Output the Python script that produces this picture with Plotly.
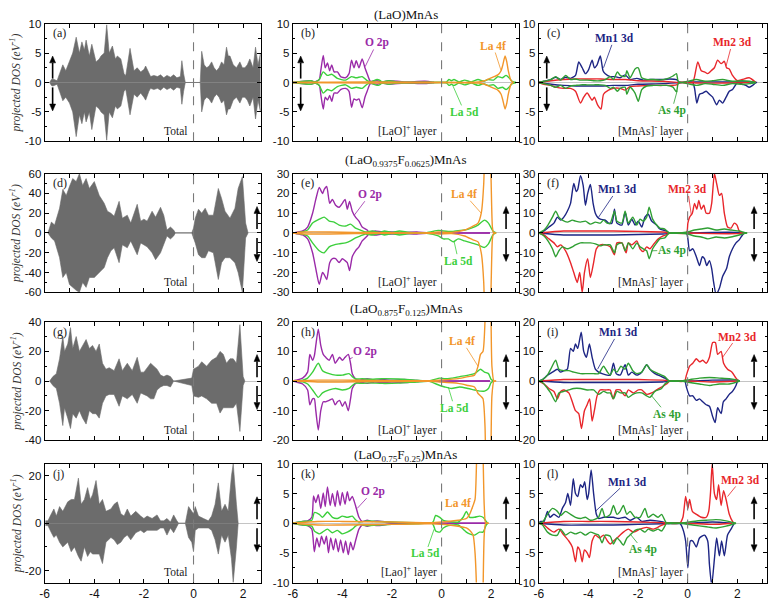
import plotly.graph_objects as go

W, H = 768, 616

# ---------------- data: column 1 (total DOS) ----------------
a_E = [-5.8,-5.73,-5.67,-5.6,-5.5,-5.4,-5.27,-5.15,-5.0,-4.87,-4.73,-4.6,-4.5,-4.4,-4.33,-4.2,-4.1,-3.93,-3.8,-3.73,
       -3.6,-3.5,-3.4,-3.27,-3.15,-3.07,-2.93,-2.8,-2.73,-2.56,-2.4,-2.27,-2.13,-2.0,-1.93,-1.8,-1.73,-1.6,-1.45,-1.33,
       -1.2,-1.07,-0.93,-0.8,-0.67,-0.53,-0.47,-0.4,-0.33,0.27,0.33,0.43,0.53,0.63,0.73,0.83,0.93,1.03,1.13,1.23,
       1.33,1.4,1.47,1.6,1.73,1.87,1.97,2.07,2.17,2.27,2.4,2.5,2.6,2.7]
a_up = [0,0.5,0.6,0.5,0.3,1.5,3.0,2.0,3.5,5.0,7.7,5.0,6.9,5.5,7.2,4.5,6.5,3.5,4.0,4.5,
        5.0,9.8,5.0,6.2,4.0,4.5,4.0,1.5,1.2,5.8,2.0,2.5,1.8,2.2,2.8,1.5,1.0,1.2,1.0,1.3,
        0.8,1.2,0.9,1.3,0.8,1.0,3.7,1.5,0,0,5.3,3.0,2.5,2.8,3.5,2.5,2.0,2.5,3.5,3.0,
        6.0,4.5,4.5,3.0,2.5,3.5,2.5,2.5,3.0,4.0,2.5,6.0,3.0,5.0]
a_dn = [0,-0.5,-0.6,-0.5,-0.3,-1.5,-3.1,-2.5,-3.5,-5.0,-9.2,-5.5,-7.0,-5.0,-6.7,-5.0,-8.0,-4.0,-4.5,-5.0,
        -5.5,-9.8,-5.0,-6.0,-4.0,-4.5,-4.0,-1.5,-1.2,-5.5,-2.0,-2.5,-1.8,-2.5,-3.0,-1.5,-1.0,-1.2,-1.0,-1.3,
        -0.8,-1.2,-0.9,-1.3,-0.8,-1.0,-3.7,-1.5,0,0,-5.0,-3.0,-2.5,-2.8,-3.5,-2.5,-2.0,-2.5,-3.5,-3.0,
        -5.5,-4.5,-4.5,-3.0,-2.5,-3.5,-2.5,-2.5,-3.0,-4.0,-2.5,-6.2,-3.0,-5.0]

d_E = [-5.87,-5.73,-5.6,-5.4,-5.27,-5.13,-5.0,-4.87,-4.73,-4.6,-4.47,-4.33,-4.2,-4.0,-3.8,-3.6,-3.47,-3.33,-3.2,-3.0,
       -2.87,-2.67,-2.53,-2.27,-2.13,-2.0,-1.87,-1.67,-1.53,-1.33,-1.2,-1.07,-0.93,-0.8,-0.73,-0.07,0.0,0.07,0.2,0.33,
       0.47,0.6,0.8,1.0,1.13,1.27,1.47,1.67,1.8,1.97,2.1,2.2]
d_up = [0,11,8,25,44,38,47,55,52,60,48,55,45,52,38,30,22,20,17,32,
        15,18,10,29,12,14,12,22,16,26,18,3,6,3,0,0,5,15,24,20,
        25,18,18,45,35,22,15,25,45,57,10,0]
d_dn = [0,-5,-8,-25,-45,-40,-52,-55,-58,-60,-50,-55,-45,-45,-40,-35,-25,-18,-15,-30,
        -12,-15,-8,-22,-10,-12,-14,-20,-27,-20,-12,-3,-6,-3,0,0,-5,-10,-22,-25,
        -25,-18,-20,-47,-30,-25,-25,-30,-40,-60,-5,0]

g_E = [-5.8,-5.67,-5.53,-5.4,-5.27,-5.2,-5.07,-4.96,-4.87,-4.73,-4.6,-4.47,-4.33,-4.2,-4.07,-3.93,-3.8,-3.67,-3.53,-3.4,
       -3.2,-3.0,-2.87,-2.67,-2.47,-2.27,-2.13,-2.0,-1.87,-1.73,-1.6,-1.47,-1.33,-1.2,-1.07,-0.93,-0.8,-0.07,0.0,0.2,
       0.33,0.53,0.73,0.93,1.07,1.2,1.33,1.47,1.6,1.73,1.87,2.0,2.07]
g_up = [0,3,5,15,30,20,25,36,22,30,20,24,28,22,24,20,25,12,8,9,
        7,15,7,12,7,16,6,6,9,12,10,8,4,3,4,3,0,2,8,10,
        13,10,14,16,20,18,12,15,15,12,38,3,0]
g_dn = [0,-3,-5,-15,-30,-18,-25,-32,-22,-25,-20,-25,-29,-20,-22,-22,-25,-15,-10,-9,
        -9,-17,-10,-12,-9,-15,-8,-9,-10,-12,-12,-6,-4,-3,-3,-4,0,-3,-10,-11,
        -10,-12,-15,-15,-21.6,-18,-18,-18,-18,-15,-34,-3,0]

j_E = [-5.97,-5.87,-5.73,-5.63,-5.53,-5.4,-5.27,-5.07,-4.93,-4.8,-4.64,-4.53,-4.4,-4.27,-4.16,-4.07,-3.93,-3.8,-3.67,-3.53,
       -3.33,-3.2,-3.07,-2.93,-2.8,-2.67,-2.53,-2.33,-2.13,-2.0,-1.87,-1.67,-1.47,-1.33,-1.2,-1.07,-0.93,-0.8,-0.67,-0.6,
       -0.33,-0.2,-0.07,0.0,0.07,0.2,0.4,0.6,0.73,0.87,1.0,1.13,1.27,1.4,1.53,1.6,1.73,1.8]
j_up = [1,1,4,6,3,7,5,9,10,10,19,8,10,15,10,12,18,8,10,5,
        6,8,9,4,3,6,3,5,3,2,3,2,3.5,1,1,2,0.5,3.5,1,0,
        0,7,5,4,7,3,2,1,3,8,17,5,8,5,20,25,8,0]
j_dn = [-1,-1,-4,-6,-5,-8,-10,-8,-12,-10,-14,-16,-10,-14,-12,-13,-13,-13,-17,-8,
        -6,-7,-9,-8,-6,-5,-7,-4,-3,-4,-3,-3,-3,-2,-2,-5,-2,-4,-1,0,
        0,-6,-8,-12,-3,-2,-2,-2,-3,-7,-13,-5,-8,-5,-15,-25,-10,0]

# ---------------- data: column 2 ([LaO]+ layer) ----------------
b_O_E = [-6.0,-5.27,-5.1,-4.93,-4.87,-4.77,-4.69,-4.6,-4.51,-4.43,-4.33,-4.2,-4.07,-3.87,-3.73,-3.63,-3.53,-3.44,-3.33,-3.2,
         -3.09,-3.0,-2.87,-2.6,-2.4,-2.13,-1.5,-0.67,-0.3]
b_O_up = [0,0.3,0.1,0.5,2.0,4.6,2.5,3.3,2.0,3.0,1.8,1.8,1.0,0.8,1.5,3.8,2.5,3.7,2.5,4.0,
          2.5,1.5,0.2,0.3,0.1,0.3,0.1,0.2,0]
b_O_dn = [0,-0.3,-0.1,-0.5,-2.0,-4.5,-2.5,-3.0,-2.2,-3.2,-1.8,-1.8,-1.2,-1.0,-1.5,-4.2,-2.8,-3.0,-2.8,-4.3,
          -2.5,-1.5,-0.2,-0.3,-0.1,-0.3,-0.1,-0.2,0]
b_L5_E = [-6.0,-5.27,-5.1,-4.93,-4.77,-4.6,-4.43,-4.2,-3.87,-3.63,-3.44,-3.2,-3.0,-2.87,-2.6,-2.5,-2.4,-2.13,-1.8,-0.5,
          0.2,0.3,0.4,0.5,0.7,0.93,1.2,1.47,1.7,1.87,2.1,2.27,2.45,2.6,2.72,2.85,3.0]
b_L5_up = [0,0.3,0.1,0.5,1.8,1.2,1.4,0.7,0.4,1.0,0.8,1.0,0.3,0.1,0.5,0.4,0.1,0.3,0.1,0.05,
           0.1,0.5,0.3,0.5,0.1,0.4,0.1,0.5,0.2,0.5,0.4,1.0,0.8,1.2,0.8,0.2,0]
b_L5_dn = [0,-0.3,-0.1,-0.5,-1.8,-1.2,-1.4,-0.7,-0.4,-1.0,-0.8,-1.0,-0.3,-0.1,-0.5,-0.4,-0.1,-0.3,-0.1,-0.05,
           -0.1,-0.5,-0.3,-0.5,-0.1,-0.4,-0.1,-0.5,-0.2,-0.5,-0.4,-1.0,-0.8,-1.2,-0.8,-0.2,0]
b_L4_E = [-6.0,-3.0,0.2,1.5,1.73,2.0,2.27,2.4,2.47,2.56,2.63,2.69,2.8,2.9]
b_L4_up = [0,0.1,0,0.1,0.3,0.8,1.3,2.0,3.0,4.5,3.5,2.0,0.3,0]
b_L4_dn = [0,-0.1,0,-0.1,-0.3,-0.8,-1.3,-2.0,-3.0,-4.5,-3.5,-2.0,-0.3,0]

e_O_E = [-6.0,-5.87,-5.6,-5.4,-5.2,-5.07,-4.93,-4.8,-4.73,-4.63,-4.51,-4.4,-4.27,-4.13,-4.0,-3.89,-3.8,-3.71,-3.6,-3.47,
         -3.33,-3.2,-3.0,-2.93,-2.67,-2.4,-2.0,-1.5,-1.0,-0.5,1.95]
e_O_up = [0,0.3,1,3,10,17,23,20,22,23.5,15,17,14,13,15,17,12,16,11,8,
          6,3,1.5,0.5,1,0.5,0.5,0.3,0.5,0,0]
e_O_dn = [0,-0.3,-1,-3,-10,-18,-26,-20,-21,-23.5,-15,-13,-13,-15,-13,-14,-15,-19,-12,-9,
          -7,-4,-1.5,-0.5,-1,-0.5,-0.5,-0.3,-0.5,0,0]
e_L5_E = [-6.0,-5.73,-5.4,-5.2,-4.93,-4.73,-4.53,-4.33,-4.13,-3.87,-3.67,-3.47,-3.27,-3.07,-2.8,-2.5,-2.3,-2.0,-1.7,-1.3,
          -0.6,-0.13,0.07,0.27,0.47,0.67,0.93,1.2,1.47,1.73,1.89,2.07,2.2]
e_L5_up = [0,0.3,1.5,5,7,8,6,5.5,4,3.5,4.5,2.5,1.5,0.5,1,0.3,1,0.3,1,0.3,
           0.2,1.3,1,0.8,0.8,1.2,1.5,2.5,4,6.5,5,1,0]
e_L5_dn = [0,-0.3,-1.5,-5,-9,-10,-7,-6,-5.5,-5,-4,-2.5,-1.5,-0.5,-1,-0.3,-1,-0.3,-1,-0.3,
           -0.2,-1.5,-3,-3,-4.5,-3,-4,-5,-6,-7.3,-5.5,-1,0]
e_L4_E = [-6.0,-5.5,-4.5,-3.5,-2.5,-0.5,-0.13,0.4,0.93,1.27,1.47,1.6,1.7,1.75,1.85,1.95,2.0,2.05,2.1,2.2]
e_L4_up = [0,0.5,0.5,0.3,0.2,0.1,0.5,0.3,1.5,3.5,5,10,25,50,80,50,25,3,0,0]
e_L4_dn = [0,-0.5,-0.5,-0.3,-0.2,-0.1,-0.5,-0.3,-1.5,-3.5,-4.5,-10,-25,-50,-80,-50,-25,-3,0,0]

h_O_E = [-6.0,-5.87,-5.6,-5.4,-5.31,-5.2,-5.13,-5.07,-4.97,-4.87,-4.77,-4.67,-4.53,-4.4,-4.29,-4.2,-4.11,-4.0,-3.89,-3.76,
         -3.67,-3.6,-3.47,-3.33,-3.0,-2.7,-2.4,-2.0,-1.5,-1.0,-0.5,1.95]
h_O_up = [0,0.3,1,3,9,7,8.5,12,17.5,12,9,8,7,9,6,7,8,7,8,9,
          6,2.5,0.8,0.3,0.8,0.3,0.5,0.3,0.5,0.2,0,0]
h_O_dn = [0,-0.3,-1,-3,-8,-6,-6,-10,-16.5,-10,-7,-7,-6.5,-6,-8,-7,-6.5,-8.5,-7,-10,
          -6,-2.5,-0.8,-0.3,-0.8,-0.3,-0.5,-0.3,-0.5,-0.2,0,0]
h_L5_E = [-6.0,-5.6,-5.4,-5.2,-4.97,-4.8,-4.53,-4.27,-4.0,-3.73,-3.6,-3.47,-3.2,-2.93,-2.4,-1.73,-1.0,-0.5,-0.07,0.13,
          0.4,0.73,1.07,1.33,1.57,1.73,1.89,2.0,2.11]
h_L5_up = [0,0.3,1,3,6,3.5,2.5,2,2,2.5,1.5,0.7,0.8,0.6,0.8,0.7,0.3,0.1,1,0.8,
           1,1.5,2,2.5,4,3,2.5,0.5,0]
h_L5_dn = [0,-0.3,-1,-3,-5.5,-4,-3,-2.5,-3,-2.5,-1.5,-0.7,-0.8,-0.6,-0.8,-0.7,-0.3,-0.1,-1.5,-2,
           -2.5,-2,-2.5,-3,-3.4,-3.4,-2.5,-0.5,0]
h_L4_E = [-6.0,-5.0,-4.0,-3.0,-0.5,-0.1,0.67,1.07,1.33,1.47,1.57,1.67,1.75,1.8,1.87,1.97,2.03,2.11,2.2]
h_L4_up = [0,0.3,0.3,0.2,0.1,0.3,0.8,1.5,2,5,9,10,20,40,60,40,5,0,0]
h_L4_dn = [0,-0.3,-0.3,-0.2,-0.1,-0.3,-0.8,-1.5,-2,-4.2,-5,-6,-15,-40,-60,-40,-5,0,0]

k_O_E = [-6.0,-5.6,-5.4,-5.23,-5.16,-5.07,-4.97,-4.87,-4.77,-4.69,-4.6,-4.49,-4.4,-4.29,-4.2,-4.09,-4.0,-3.89,-3.8,-3.71,
         -3.6,-3.47,-3.33,-3.2,-3.0,-2.8,-2.6,-2.0,-1.0,1.8]
k_O_up = [0,0.3,0.4,1,4.6,3.5,4.8,2.5,5.1,2.8,6.1,3,5,2.8,5.5,3,5.2,3.2,5.3,3.8,
          4.5,3,1,0.3,0.5,0.3,0.4,0.1,0,0]
k_Odn_E = [-6.0,-5.6,-5.4,-5.23,-5.13,-5.03,-4.93,-4.84,-4.73,-4.64,-4.56,-4.47,-4.36,-4.27,-4.16,-4.07,-3.96,-3.87,-3.76,-3.67,
           -3.57,-3.47,-3.33,-3.2,-3.0,-2.8,-2.6,-2.0,-1.0,1.8]
k_O_dn = [0,-0.3,-0.4,-1,-4.8,-2.5,-4,-2.2,-3.5,-2.2,-5,-2.5,-4.5,-2.6,-4.8,-2.8,-5,-3,-5.3,-3.2,
          -4.5,-3,-1,-0.3,-0.5,-0.3,-0.4,-0.1,0,0]
k_L5_E = [-6.0,-5.6,-5.23,-5.13,-4.93,-4.8,-4.6,-4.4,-4.2,-4.0,-3.8,-3.6,-3.47,-3.33,-3.0,-2.6,-2.0,-1.0,-0.4,-0.33,
          -0.24,-0.07,0.07,0.27,0.67,0.87,1.0,1.13,1.33,1.53,1.67,1.8,1.87]
k_L5_up = [0,0.3,0.5,1.8,1.5,1,1.9,1,0.8,1.2,1,1.2,0.6,0.2,0.4,0.3,0.2,0.1,0,0.3,
           1.3,1,0.5,0.3,0.2,1,2,1,1,1.2,1,0.3,0]
k_L5_dn = [0,-0.3,-0.5,-1.3,-1.8,-1.5,-1,-1.6,-1.2,-1.8,-1.5,-1,-0.5,-0.2,-0.4,-0.3,-0.2,-0.1,0,-0.3,
           -1.3,-1.5,-0.8,-0.4,-0.3,-1,-1.5,-1.8,-2,-1.5,-1.5,-0.3,0]
k_L4_E = [-6.0,-5.0,-4.0,-2.0,-0.4,0.67,1.0,1.13,1.27,1.35,1.42,1.5,1.6,1.67,1.72,1.78,1.9]
k_L4_up = [0,0.3,0.3,0.2,0.1,0.5,0.8,1.5,3,4,12,25,20,12,3,0,0]
k_L4_dn = [0,-0.3,-0.3,-0.2,-0.1,-0.5,-0.8,-1.2,-2,-5,-12,-25,-25,-12,-2,0,0]

# ---------------- data: column 3 ([MnAs]- layer) ----------------
c_M1_E = [-6.0,-5.79,-5.52,-5.32,-5.12,-4.92,-4.72,-4.52,-4.39,-4.25,-4.12,-3.99,-3.85,-3.76,-3.65,-3.52,-3.41,-3.32,-3.12,-2.92,
          -2.72,-2.52,-2.32,-2.05,-1.79,-1.52,-1.25,-0.99,-0.72,-0.45,-0.32,0.3,1.0,1.5,2.0,2.5,2.8]
c_M1_up = [0,0.2,0.5,0.9,0.5,0.9,0.7,1.2,3.5,2.5,1.5,2.2,3.8,2.5,3,4.5,2,1.5,1,1,
           0.8,1.3,0.5,0.7,0.4,0.5,0.5,0.5,0.6,0.5,0,0.1,0.1,0.1,0.1,0.1,0]
c_M1dn_E = [-6.0,-5.5,-5.0,-4.5,-4.0,-3.5,-3.0,-2.5,-2.0,-1.0,-0.32,0.2,0.28,0.37,0.48,0.61,0.75,0.88,1.01,1.17,
            1.28,1.41,1.55,1.68,1.81,2.01,2.2,2.35,2.48,2.62,2.75]
c_M1_dn = [0,-0.3,-0.5,-0.6,-0.6,-0.6,-0.5,-0.5,-0.3,-0.2,0,0,-1,-3.5,-2,-1.8,-1.5,-2,-2.5,-3.8,
           -3,-3.5,-2.5,-1.5,-1.2,0,-0.3,-0.5,-0.8,-0.5,0]
c_M2_E = [-6.0,-5.5,-5.0,-4.5,-4.0,-3.5,-3.0,-2.5,-2.0,-1.0,-0.32,0.2,0.28,0.41,0.55,0.68,0.81,0.95,1.08,1.21,
          1.35,1.48,1.57,1.68,1.81,2.01,2.2,2.48,2.75]
c_M2_up = [0,0.3,0.5,0.6,0.6,0.6,0.5,0.5,0.3,0.2,0,0,1,3.5,2,1.8,1.5,2,2.5,3.8,
           3.2,3.6,2.5,2.3,1.2,0.3,0.5,0.8,0]
c_M2dn_E = [-6.0,-5.79,-5.52,-5.32,-5.0,-4.72,-4.52,-4.32,-4.19,-4.05,-3.85,-3.76,-3.63,-3.49,-3.39,-3.19,-2.99,-2.72,-2.52,-2.32,
            -2.0,-1.5,-1.0,-0.45,-0.32,0.5,1.5,2.5]
c_M2_dn = [0,-0.3,-0.5,-0.8,-1,-1,-1.5,-3.5,-2.5,-1.8,-3,-2.5,-3.8,-4.5,-2,-1.3,-1,-1,-1.3,-0.7,
           -0.6,-0.5,-0.5,-0.4,0,-0.1,-0.1,0]
c_As_E = [-6.0,-5.79,-5.52,-5.32,-5.12,-4.92,-4.72,-4.52,-4.32,-4.05,-3.79,-3.52,-3.32,-3.12,-2.99,-2.83,-2.72,-2.52,-2.45,-2.32,
          -2.12,-1.99,-1.85,-1.65,-1.39,-1.12,-0.85,-0.59,-0.45,-0.39,-0.32,0.0,0.35,0.7,1.0,1.41,1.8,2.2,2.5,2.75]
c_As_up = [0,0.2,0.5,1.0,0.4,1.2,0.5,0.6,0.4,0.4,0.3,0.3,0.5,1.0,0.5,1.8,1.2,1.0,2.0,0.8,
           2.3,2.5,0.8,0.5,0.5,0.4,0.6,1.1,1.5,0.3,0,0.2,0.5,0.2,0.3,0.5,0.2,0.3,0.2,0]
c_As_dn = [0,-0.2,-0.5,-0.8,-0.5,-1.0,-0.6,-0.5,-0.4,-0.4,-0.4,-0.4,-0.5,-1.0,-0.8,-1.5,-1.0,-0.8,-2.0,-0.8,
           -1.8,-3.2,-1.2,-0.6,-0.5,-0.5,-0.5,-0.8,-1.6,-0.3,0,-0.2,-0.5,-0.2,-0.3,-0.5,-0.2,-0.3,-0.2,0]

f_M1_E = [-6.0,-5.92,-5.79,-5.59,-5.39,-5.25,-5.12,-4.99,-4.85,-4.72,-4.59,-4.49,-4.43,-4.32,-4.21,-4.12,-4.03,-3.92,-3.81,-3.72,
          -3.63,-3.52,-3.32,-3.19,-3.05,-2.95,-2.85,-2.65,-2.52,-2.39,-2.25,-2.12,-1.99,-1.85,-1.72,-1.59,-1.45,-1.25,-1.12,-0.99,
          -0.85,-0.75,0.0,1.0,2.0,2.3]
f_M1_up = [0,0.3,1,3,5,8,6.5,8,11,15,25,21,22,29,24,14,20,24.5,15,10,
           8,7,6.5,5,5,12,5,4,10.5,4,7,4,6,3,8,9.5,6,4,2,1.5,
           1,0,0,0.3,0.3,0]
f_M1dn_E = [-6.0,-5.0,-4.0,-3.0,-2.0,-1.0,-0.05,0.01,0.08,0.21,0.35,0.48,0.59,0.68,0.77,0.88,0.97,1.05,1.15,1.28,
            1.41,1.57,1.68,1.81,1.95,2.08,2.21,2.28]
f_M1_dn = [0,-1,-1,-1,-0.8,-0.5,0,-3,-9,-8,-12,-16.5,-12,-13,-16.5,-14,-18,-25,-31,-28,
           -22,-18,-12,-8,-5,-3.5,-1,0]
f_M2_E = [-6.0,-5.0,-4.0,-3.0,-2.0,-1.0,-0.05,0.01,0.08,0.19,0.28,0.37,0.45,0.55,0.65,0.75,0.88,0.97,1.08,1.17,
          1.28,1.37,1.48,1.61,1.75,1.88,1.99,2.08,2.21]
f_M2_up = [0,1,1,1,0.8,0.5,0,5,8,10,15,12,16.5,12,14,10,10,15,30,25,
           19,20,10,3,2.5,5,4,1,0]
f_M2dn_E = [-6.0,-5.79,-5.59,-5.39,-5.25,-5.12,-4.92,-4.72,-4.59,-4.45,-4.35,-4.25,-4.16,-4.03,-3.92,-3.79,-3.68,-3.52,-3.32,-3.12,
            -2.95,-2.85,-2.65,-2.48,-2.39,-2.25,-2.05,-1.92,-1.79,-1.65,-1.52,-1.39,-1.19,-0.99,-0.79,-0.72,0.0,1.0,2.0,2.3]
f_M2_dn = [0,-1,-3,-5,-7,-6,-9,-15,-20,-25,-20,-30,-20,-13,-22.5,-15,-8,-6,-6,-7,
           -11,-5,-5,-10,-5,-6,-4,-8,-9.4,-7,-8,-6,-3,-1.5,-0.5,0,0,-0.3,-0.3,0]
f_As_E = [-6.0,-5.79,-5.63,-5.45,-5.32,-5.19,-5.05,-4.85,-4.65,-4.52,-4.32,-4.12,-3.92,-3.72,-3.52,-3.39,-3.25,-3.12,-2.95,-2.85,
          -2.65,-2.52,-2.39,-2.21,-2.05,-1.92,-1.79,-1.65,-1.55,-1.41,-1.25,-1.12,-0.92,-0.79,-0.72,-0.3,0.0,0.28,0.55,0.81,
          1.15,1.48,1.75,2.08,2.28,2.4]
f_As_up = [0,1.5,4,8,11,8,6.5,5.5,6.5,6,5.5,6,4.5,5.5,5,6.5,5,5,11,6,
           5,11,5,8,4,7,6,8,13,7,4,2.5,2,0.5,0,0,0.5,1.5,2,2.5,
           1.5,2,1.5,1,0.3,0]
f_As_dn = [0,-1.5,-4,-8,-12,-9,-7,-8,-7,-6,-5,-5,-5,-5.5,-6.5,-6,-6,-6,-10,-6,
           -5,-9,-5,-8,-5,-7,-8,-9,-13,-8,-5,-3,-2.5,-0.5,0,0,-0.5,-1.5,-2,-3,
           -2,-2.5,-2,-1,-0.3,0]

i_M1_E = [-6.0,-5.85,-5.65,-5.45,-5.25,-5.12,-4.99,-4.85,-4.72,-4.61,-4.52,-4.43,-4.29,-4.19,-4.08,-3.96,-3.85,-3.72,-3.59,-3.45,
          -3.25,-3.12,-2.99,-2.88,-2.72,-2.52,-2.39,-2.25,-2.05,-1.85,-1.65,-1.52,-1.32,-1.05,-0.92,-0.79,-0.72,0.0,1.0,2.0,2.1]
i_M1_up = [0,0.5,2,3,4,3,3.5,4,11,10,12.5,11,16.5,10,8,12.5,8,4,3,2.5,
           2,2,6,2.5,2,5.5,2,3,2,3,5.5,4,2.5,1.5,1,0.2,0,0,0.3,0.3,0]
i_M1dn_E = [-6.0,-5.0,-4.0,-3.0,-2.0,-1.0,-0.12,-0.05,0.08,0.21,0.35,0.48,0.61,0.75,0.88,1.01,1.11,1.21,1.35,1.44,
            1.55,1.68,1.81,1.95,2.01]
i_M1_dn = [0,-0.5,-0.5,-0.5,-0.5,-0.3,0,-2,-5,-5,-6.5,-6,-7,-8,-8.5,-12,-14,-9,-11,-7,
           -6,-4.5,-3.5,-1.5,0]
i_M2_E = [-6.0,-5.0,-4.0,-3.0,-2.0,-1.0,-0.12,-0.05,0.08,0.21,0.35,0.48,0.61,0.75,0.88,1.01,1.12,1.21,1.35,1.45,
          1.61,1.79,1.95,2.05]
i_M2_up = [0,0.5,0.5,0.5,0.5,0.3,0,2,5,6,7.5,6.5,7,6,8,13,13,9,10,6,
           4,3,1,0]
i_M2dn_E = [-6.0,-5.79,-5.59,-5.39,-5.25,-5.12,-4.99,-4.79,-4.65,-4.52,-4.39,-4.28,-4.16,-4.05,-3.95,-3.85,-3.76,-3.65,-3.52,-3.32,
            -3.12,-3.01,-2.88,-2.72,-2.52,-2.39,-2.19,-1.99,-1.85,-1.65,-1.45,-1.25,-1.05,-0.85,-0.72,0.0,1.0,2.0]
i_M2_dn = [0,-1,-2.5,-3.5,-6,-3.5,-3,-4,-7,-10,-11,-16,-10,-8,-6,-13.5,-10,-5,-3,-3,
           -3,-6,-3,-3,-5,-3,-4,-3,-3,-4.5,-4,-3,-2,-1,0,0,-0.3,0]
i_As_E = [-6.0,-5.85,-5.65,-5.52,-5.32,-5.19,-4.99,-4.79,-4.59,-4.32,-4.05,-3.79,-3.59,-3.39,-3.23,-3.12,-2.99,-2.85,-2.69,-2.52,
          -2.39,-2.21,-2.05,-1.85,-1.65,-1.52,-1.32,-1.05,-0.92,-0.79,-0.72,-0.3,0.08,0.48,0.88,1.28,1.68,2.01,2.1]
i_As_up = [0,0.5,2,4,7,4,3.5,3.5,3,2.5,2.5,2.5,2.5,5,3,2,4,3,5,4,
           6,3.5,2.5,3,5.5,4,3,2,1.5,0.3,0,0,0.5,1,1.2,1,0.8,0.3,0]
i_As_dn = [0,-0.5,-2.5,-4,-7,-4,-3.5,-3,-2.5,-2.5,-3,-3,-4.5,-3.5,-4,-4,-6,-3.5,-4,-4,
           -5.5,-4.5,-4,-4,-5,-5.5,-3.5,-2.5,-1,-0.3,0,0,-0.5,-1,-1.5,-1,-1,-0.3,0]

l_M1_E = [-6.0,-5.92,-5.79,-5.65,-5.55,-5.39,-5.19,-5.05,-4.92,-4.83,-4.72,-4.61,-4.52,-4.43,-4.32,-4.23,-4.15,-4.05,-3.99,-3.89,
          -3.79,-3.68,-3.59,-3.39,-3.19,-2.99,-2.79,-2.52,-2.32,-2.05,-1.85,-1.52,-1.25,-0.99,-0.85,0.0,1.0,1.8]
l_M1_up = [0,0.3,0.3,2,1,1.5,1,2.5,3.5,5,3,7.5,5,4.5,6.5,6,7,4,5,9,
           5,1.5,0.8,1,1,1,0.8,1,0.5,1,0.3,0.5,0.4,0.2,0,0,0.2,0]
l_M1dn_E = [-6.0,-5.0,-4.0,-3.0,-2.0,-1.0,-0.32,-0.19,-0.08,0.01,0.11,0.21,0.35,0.48,0.68,0.81,0.88,0.97,1.08,1.17,
            1.28,1.37,1.48,1.61,1.75,1.88]
l_M1_dn = [0,-0.3,-0.3,-0.3,-0.2,-0.1,0,-1,-3,-7.5,-3,-3,-4,-2.5,-2,-3,-7,-10.5,-6,-2.5,
           -5.5,-3,-5.5,-2,-1,0]
l_M2_E = [-6.0,-5.0,-4.0,-3.0,-2.0,-1.0,-0.32,-0.19,-0.08,0.01,0.08,0.19,0.35,0.55,0.75,0.85,0.92,0.99,1.08,1.17,
          1.25,1.35,1.45,1.55,1.68,1.81,1.88]
l_M2_up = [0,0.3,0.3,0.3,0.2,0.1,0,1,4.5,2.5,4,2,1.5,1,1,2,5,10,5,4,
           6.5,3,5.5,4,1.5,0.3,0]
l_M2dn_E = [-6.0,-5.79,-5.59,-5.39,-5.19,-4.99,-4.79,-4.65,-4.52,-4.43,-4.35,-4.25,-4.16,-4.05,-3.96,-3.85,-3.72,-3.55,-3.39,-3.23,
            -3.12,-2.99,-2.85,-2.72,-2.59,-2.39,-2.19,-1.92,-1.65,-1.39,-1.12,-0.85,0.0,1.0,1.8]
l_M2_dn = [0,-0.3,-1,-1.5,-1,-2,-3,-4,-6.5,-4,-4.5,-6.5,-4.5,-5,-5.8,-3,-2,-2.5,-2,-3,
           -3.5,-3,-2.5,-2,-1.5,-1,-1.5,-1,-0.7,-1,-0.5,0,0,-0.2,0]
l_As_E = [-6.0,-5.85,-5.65,-5.45,-5.25,-5.12,-4.92,-4.72,-4.52,-4.32,-4.12,-3.92,-3.72,-3.59,-3.45,-3.32,-3.12,-2.99,-2.85,-2.72,
          -2.59,-2.45,-2.32,-2.12,-1.92,-1.72,-1.59,-1.39,-1.19,-1.05,-0.92,-0.85,-0.3,0.2,0.75,1.15,1.55,1.95]
l_As_up = [0,0.2,1.5,2.5,2,1.3,2,1.5,1,0.8,1,0.5,0.7,1,2.5,1,1.5,3,1.5,2,
           3,1.5,2,1,1,2.5,1,1.5,1,1.5,0.5,0,0,0.3,0.5,0.6,0.4,0]
l_As_dn = [0,-0.3,-1.5,-2,-2,-1,-2,-1.5,-1.8,-1.5,-2,-1.5,-1.8,-2,-3.3,-2,-2.2,-3.5,-2.5,-3,
           -3.7,-2.5,-2,-1.2,-1,-1.5,-1,-1.3,-1,-1.3,-0.5,0,0,-0.3,-0.6,-0.8,-0.5,0]

# ---------------- tick labels / titles ----------------
x_ticks = [-6, -4, -2, 0, 2]
x_ticklabels = ['-6', '-4', '-2', '0', '2']
x_minor = [-5, -3, -1, 1, 3]
row_titles = ["(LaO)MnAs",
              "(LaO<sub>0.9375</sub>F<sub>0.0625</sub>)MnAs",
              "(LaO<sub>0.875</sub>F<sub>0.125</sub>)MnAs",
              "(LaO<sub>0.75</sub>F<sub>0.25</sub>)MnAs"]
panel_letters = ['(a)', '(b)', '(c)', '(d)', '(e)', '(f)', '(g)', '(h)', '(i)', '(j)', '(k)', '(l)']
layer2_text = ["[LaO]<sup>+</sup> layer", "[LaO]<sup>+</sup> layer", "[LaO]<sup>+</sup> layer", "[Lao]<sup>+</sup> layer"]
layer3_text = "[MnAs]<sup>-</sup> layer"

# y scales: (limit, major ticks, minor ticks)
Y_COL1 = [(10, [-10, -5, 0, 5, 10], [-7.5, -2.5, 2.5, 7.5]),
          (60, [-60, -40, -20, 0, 20, 40, 60], [-50, -30, -10, 10, 30, 50]),
          (40, [-40, -20, 0, 20, 40], [-30, -10, 10, 30]),
          (25, [-20, 0, 20], [-10, 10])]
Y_COL23 = [(10, [-10, -5, 0, 5, 10], [-7.5, -2.5, 2.5, 7.5]),
           (30, [-30, -20, -10, 0, 10, 20, 30], [-25, -15, -5, 5, 15, 25]),
           (20, [-20, -10, 0, 10, 20], [-15, -5, 5, 15]),
           (10, [-10, -5, 0, 5, 10], [-7.5, -2.5, 2.5, 7.5])]

# ---------------- styles ----------------
FILL = '#6c6c6c'
PURPLE = '#9a2aa8'
GREEN5 = '#3ccf3c'
ORANGE = '#f2962a'
NAVY = '#1d2584'
RED = '#e8262b'
GREENAS = '#2f9f33'
SERIF = 'Liberation Serif, Times New Roman, serif'
SANS = 'Liberation Sans, Arial, sans-serif'

COL_PX = [(40, 258), (290, 518), (538, 768)]
ROW_PX = [(18, 138), (171, 292), (322, 443), (467, 588)]
XRANGE = [[-6, 2.72], [-6, 3.12], [-6, 3.2]]
TITLE_Y = [9, 158, 310, 458]

totals = [(a_E, a_up, a_dn), (d_E, d_up, d_dn), (g_E, g_up, g_dn), (j_E, j_up, j_dn)]
col2 = [
    [(b_O_E, b_O_up, PURPLE), (b_O_E, b_O_dn, PURPLE), (b_L5_E, b_L5_up, GREEN5), (b_L5_E, b_L5_dn, GREEN5),
     (b_L4_E, b_L4_up, ORANGE), (b_L4_E, b_L4_dn, ORANGE)],
    [(e_O_E, e_O_up, PURPLE), (e_O_E, e_O_dn, PURPLE), (e_L5_E, e_L5_up, GREEN5), (e_L5_E, e_L5_dn, GREEN5),
     (e_L4_E, e_L4_up, ORANGE), (e_L4_E, e_L4_dn, ORANGE)],
    [(h_O_E, h_O_up, PURPLE), (h_O_E, h_O_dn, PURPLE), (h_L5_E, h_L5_up, GREEN5), (h_L5_E, h_L5_dn, GREEN5),
     (h_L4_E, h_L4_up, ORANGE), (h_L4_E, h_L4_dn, ORANGE)],
    [(k_O_E, k_O_up, PURPLE), (k_Odn_E, k_O_dn, PURPLE), (k_L5_E, k_L5_up, GREEN5), (k_L5_E, k_L5_dn, GREEN5),
     (k_L4_E, k_L4_up, ORANGE), (k_L4_E, k_L4_dn, ORANGE)],
]
col3 = [
    [(c_M1_E, c_M1_up, NAVY), (c_M1dn_E, c_M1_dn, NAVY), (c_M2_E, c_M2_up, RED), (c_M2dn_E, c_M2_dn, RED),
     (c_As_E, c_As_up, GREENAS), (c_As_E, c_As_dn, GREENAS)],
    [(f_M1_E, f_M1_up, NAVY), (f_M1dn_E, f_M1_dn, NAVY), (f_M2_E, f_M2_up, RED), (f_M2dn_E, f_M2_dn, RED),
     (f_As_E, f_As_up, GREENAS), (f_As_E, f_As_dn, GREENAS)],
    [(i_M1_E, i_M1_up, NAVY), (i_M1dn_E, i_M1_dn, NAVY), (i_M2_E, i_M2_up, RED), (i_M2dn_E, i_M2_dn, RED),
     (i_As_E, i_As_up, GREENAS), (i_As_E, i_As_dn, GREENAS)],
    [(l_M1_E, l_M1_up, NAVY), (l_M1dn_E, l_M1_dn, NAVY), (l_M2_E, l_M2_up, RED), (l_M2dn_E, l_M2_dn, RED),
     (l_As_E, l_As_up, GREENAS), (l_As_E, l_As_dn, GREENAS)],
]

# label annotations (text, color, label position, pointed position) per row
labels2 = [
    [('O 2p', PURPLE, (-2.6, 6.8), (-3.08, 2.7)), ('La 4f', ORANGE, (2.08, 6.2), (2.4, 2.0)),
     ('La 5d', GREEN5, (0.92, -5.0), (0.45, -0.5))],
    [('O 2p', PURPLE, (-2.88, 19.6), (-3.52, 9)), ('La 4f', ORANGE, (0.92, 19.6), (1.6, 10)),
     ('La 5d', GREEN5, (0.68, -14), (0.5, -4))],
    [('O 2p', PURPLE, (-3.08, 9.8), (-3.7, 7.5)), ('La 4f', ORANGE, (0.84, 13.4), (1.47, 5)),
     ('La 5d', GREEN5, (0.52, -9), (0.27, -2))],
    [('O 2p', PURPLE, (-2.76, 5.4), (-3.4, 2.5)), ('La 4f', ORANGE, (0.68, 3.4), (1.25, 2.5)),
     ('La 5d', GREEN5, (-0.64, -5.1), (-0.3, -1))],
]
labels3 = [
    [('Mn1 3d', NAVY, (-2.96, 7.5), (-3.39, 2.5)), ('Mn2 3d', RED, (1.8, 6.8), (1.55, 2.8)),
     ('As 4p', GREENAS, (-0.64, -4.8), (-0.42, -1.4))],
    [('Mn1 3d', NAVY, (-2.84, 22), (-3.59, 8)), ('Mn2 3d', RED, (0.0, 22), (0.15, 9)),
     ('As 4p', GREENAS, (-0.64, -8.7), (-1.45, -9))],
    [('Mn1 3d', NAVY, (-2.8, 16.4), (-3.63, 4)), ('Mn2 3d', RED, (2.0, 15), (1.41, 8)),
     ('As 4p', GREENAS, (-0.84, -11.2), (-1.45, -5))],
    [('Mn1 3d', NAVY, (-2.44, 7), (-3.72, 2)), ('Mn2 3d', RED, (2.15, 7.3), (1.61, 4.5)),
     ('As 4p', GREENAS, (-1.8, -4.5), (-2.32, -1.8))],
]

fig = go.Figure()
layout = dict(width=W, height=H, margin=dict(l=0, r=0, t=0, b=0, pad=0), showlegend=False,
              paper_bgcolor='white', plot_bgcolor='white')
annotations = []
shapes = []


def px_x(p):
    return p / W


def px_y(p):
    return 1 - p / H


def spin_arrow(xp, y_tail, y_tip):
    # shaft + filled head, in paper coordinates
    head = 7 if y_tip < y_tail else -7
    base = y_tip + head
    shapes.append(dict(type='line', xref='paper', yref='paper',
                       x0=px_x(xp), x1=px_x(xp), y0=px_y(y_tail), y1=px_y(base),
                       line=dict(color='black', width=1.6)))
    shapes.append(dict(type='path', xref='paper', yref='paper',
                       path='M {0},{1} L {2},{3} L {4},{1} Z'.format(px_x(xp - 3), px_y(base), px_x(xp), px_y(y_tip),
                                                                    px_x(xp + 3)),
                       fillcolor='black', line=dict(color='black', width=0.5)))


for r in range(4):
    for c in range(3):
        k = r * 3 + c + 1
        s = '' if k == 1 else str(k)
        xa, ya = 'x' + s, 'y' + s
        x0, x1 = COL_PX[c]
        y0, y1 = ROW_PX[r]
        lim, yt, ym = (Y_COL1 if c == 0 else Y_COL23)[r]
        layout['xaxis' + s] = dict(
            domain=[px_x(x0), px_x(x1)], range=XRANGE[c], anchor=ya,
            showline=True, linecolor='black', linewidth=1, mirror='allticks',
            ticks='inside', ticklen=4, tickcolor='black', tickmode='array',
            tickvals=x_ticks, ticktext=x_ticklabels, showticklabels=(r == 3),
            minor=dict(ticks='inside', ticklen=4, tickcolor='black', tickmode='array', tickvals=x_minor),
            showgrid=False, zeroline=False,
            tickfont=dict(family=SANS, size=12, color='#111'))
        layout['yaxis' + s] = dict(
            domain=[px_y(y1), px_y(y0)], range=[-lim, lim], anchor=xa,
            showline=True, linecolor='black', linewidth=1, mirror='allticks',
            ticks='inside', ticklen=4, tickcolor='black', tickmode='array',
            tickvals=yt, ticktext=[str(v) for v in yt],
            minor=dict(ticks='inside', ticklen=2.5, tickcolor='black', tickmode='array', tickvals=ym),
            showgrid=False, zeroline=True, zerolinecolor='#c4c4c4', zerolinewidth=1,
            tickfont=dict(family=SANS, size=11.5, color='#111'))
        # Fermi level
        shapes.append(dict(type='line', xref=xa, yref=ya + ' domain', x0=0, x1=0, y0=0, y1=1,
                           line=dict(color='#7a7a7a', width=1.1, dash='dash')))
        # panel letter
        annotations.append(dict(xref='paper', yref='paper', x=px_x(x0 + 6), y=px_y(y0 + 10),
                                xanchor='left', yanchor='middle', showarrow=False,
                                text=panel_letters[k - 1], font=dict(family=SERIF, size=12, color='#222')))
        if c == 0:
            E, up, dn = totals[r]
            assert len(E) == len(up) == len(dn), (r, len(E), len(up), len(dn))
            for yv in (up, dn):
                fig.add_trace(go.Scatter(x=E, y=yv, xaxis=xa, yaxis=ya, mode='lines',
                                         line=dict(color=FILL, width=0.6), fill='tozeroy',
                                         fillcolor=FILL, hoverinfo='skip'))
            annotations.append(dict(xref='paper', yref='paper', x=px_x(172), y=px_y(y1 - 11),
                                    xanchor='center', yanchor='middle', showarrow=False, text='Total',
                                    font=dict(family=SERIF, size=11.5, color='#222')))
        else:
            series = (col2 if c == 1 else col3)[r]
            for E, yv, col in series:
                assert len(E) == len(yv), (r, c, len(E), len(yv))
                fig.add_trace(go.Scatter(x=E, y=yv, xaxis=xa, yaxis=ya, mode='lines',
                                         line=dict(color=col, width=1.4, shape='spline', smoothing=0.6),
                                         hoverinfo='skip'))
            labs = (labels2 if c == 1 else labels3)[r]
            for txt, col, (lx, ly), (qx, qy) in labs:
                annotations.append(dict(xref=xa, yref=ya, axref=xa, ayref=ya, x=qx, y=qy, ax=lx, ay=ly,
                                        showarrow=True, arrowhead=0, arrowwidth=0.8, arrowcolor=col,
                                        xanchor='center', yanchor='middle', borderpad=0,
                                        text='<b>' + txt + '</b>',
                                        font=dict(family=SERIF, size=11.5, color=col)))
            ltxt = layer2_text[r] if c == 1 else layer3_text
            xend = 437 if c == 1 else 685
            annotations.append(dict(xref='paper', yref='paper', x=px_x(xend), y=px_y(y1 - 11),
                                    xanchor='right', yanchor='middle', showarrow=False, text=ltxt,
                                    font=dict(family=SERIF, size=11.5, color='#222')))
        # spin arrows
        yc = (y0 + y1) / 2
        if r == 0:
            axpx = x0 + 8
        else:
            axpx = x1 - 4 if c == 0 else x1 - 13
        spin_arrow(axpx, yc - 4, yc - 27)
        spin_arrow(axpx, yc + 5, yc + 29)
    # y title for the row
    annotations.append(dict(xref='paper', yref='paper', x=px_x(11), y=px_y((ROW_PX[r][0] + ROW_PX[r][1]) / 2),
                            xanchor='center', yanchor='middle', textangle=-90, showarrow=False,
                            text='<i>projected DOS (eV<sup>-1</sup>)</i>',
                            font=dict(family=SERIF, size=11.5, color='#333')))
    # row title
    annotations.append(dict(xref='paper', yref='paper', x=px_x(404), y=px_y(TITLE_Y[r]),
                            xanchor='center', yanchor='middle', showarrow=False, text=row_titles[r],
                            font=dict(family=SERIF, size=13, color='#111')))

layout['annotations'] = annotations
layout['shapes'] = shapes
fig.update_layout(**layout)
fig.write_html("out.html", config={'displayModeBar': False},
               post_script="document.body.style.margin='0px';document.body.style.overflow='hidden';")
